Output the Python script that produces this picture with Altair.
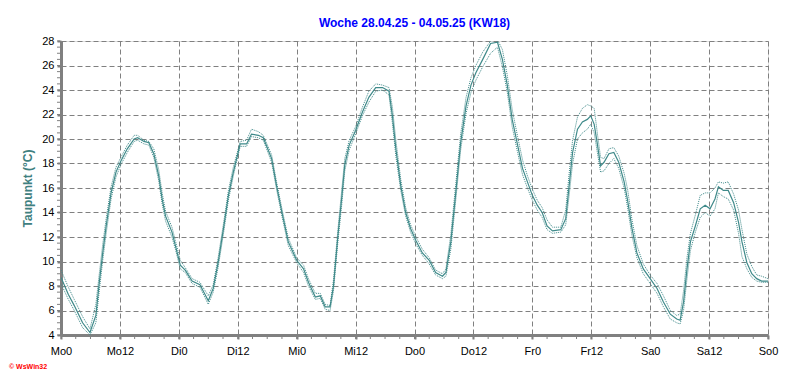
import altair as alt
import pandas as pd

title_text = "Woche 28.04.25 - 04.05.25 (KW18)"
y_title = "Taupunkt  (°C)"
x_labels = ["Mo0", "Mo12", "Di0", "Di12", "Mi0", "Mi12", "Do0", "Do12",
            "Fr0", "Fr12", "Sa0", "Sa12", "So0"]
x_label_hours = [0, 12, 24, 36, 48, 60, 72, 84, 96, 108, 120, 132, 144]
x_minor_hours = list(range(0, 145, 3))
y_ticks = [4, 6, 8, 10, 12, 14, 16, 18, 20, 22, 24, 26, 28]
y_minor = [4 + 0.5 * i for i in range(49)]

hours = [0, 1.5, 2.7, 4.4, 5.9, 7.1, 7.8, 8.5, 9.2, 10.2, 11.2, 12.2, 13.5, 14.9, 15.6,
         16.9, 17.9, 18.9, 19.9, 20.6, 21.3, 22.6, 23.3, 24.3, 25.3, 26.7, 28.3, 30.0,
         31.0, 32.0, 33.1, 34.1, 35.1, 36.5, 37.8, 38.8, 40.2, 41.2, 42.9, 43.9, 45.0,
         46.3, 48.0, 49.4, 50.4, 51.8, 52.8, 53.8, 54.8, 55.5, 56.4, 57.2, 57.8, 58.7,
         60.0, 61.4, 62.7, 64.1, 65.5, 66.8, 67.5, 68.2, 69.2, 70.2, 71.2, 72.3, 73.6,
         75.0, 76.3, 77.7, 78.4, 79.4, 80.4, 81.4, 82.5, 83.5, 84.5, 85.9, 87.5, 88.9,
         89.9, 90.9, 91.9, 93.0, 94.0, 95.0, 96.0, 97.0, 98.0, 99.0, 100.1, 101.8,
         102.8, 103.5, 104.2, 105.2, 106.2, 107.2, 107.9, 108.6, 109.2, 109.9, 110.6,
         111.6, 112.6, 113.6, 114.7, 115.4, 116.3, 117.3, 118.6, 120.0, 121.4, 122.7,
         124.1, 125.4, 126.1, 126.8, 127.5, 128.2, 129.2, 130.2, 131.2, 132.2, 133.2,
         133.9, 134.9, 135.9, 137.0, 138.0, 138.7, 139.7, 140.7, 141.7, 142.7, 144.0]

dew_mean = [8.7, 7.3, 6.4, 5.0, 4.2, 5.6, 8.3, 10.7, 12.9, 15.6, 17.3, 18.2, 19.2, 20.0, 20.1,
            19.8, 19.7, 18.8, 17.0, 15.1, 13.7, 12.4, 11.3, 9.7, 9.3, 8.4, 8.1, 6.8,
            7.8, 9.9, 12.7, 15.4, 17.3, 19.6, 19.6, 20.4, 20.3, 20.1, 18.4, 16.2, 14.0,
            11.6, 10.1, 9.4, 8.3, 7.1, 7.2, 6.3, 6.3, 8.0, 12.1, 15.3, 17.9, 19.5,
            20.7, 22.2, 23.4, 24.2, 24.2, 23.9, 21.9, 19.2, 16.2, 14.0, 12.7, 11.7, 10.7,
            10.1, 9.1, 8.8, 9.1, 11.6, 15.6, 19.7, 22.7, 24.4, 25.4, 26.5, 27.8, 27.9,
            26.5, 24.4, 21.6, 19.5, 17.6, 16.5, 15.4, 14.6, 14.0, 12.9, 12.5, 12.6,
            13.5, 16.2, 18.9, 20.8, 21.4, 21.6, 21.9, 21.2, 19.7, 17.8, 18.1,
            18.8, 18.9, 18.1, 16.5, 15.0, 12.7, 10.7, 9.4, 8.6, 7.8, 6.7,
            5.7, 5.3, 5.2, 6.7, 9.4, 11.6, 12.9, 14.3, 14.6, 14.3, 15.1,
            16.1, 15.8, 15.8, 14.8, 13.2, 11.6, 9.9, 9.0, 8.6, 8.4, 8.4]

dew_max = [9.3, 7.9, 6.9, 5.5, 4.5, 6.5, 9.0, 11.4, 13.5, 16.1, 17.7, 18.5, 19.5, 20.3, 20.3,
           19.9, 19.8, 19.2, 17.5, 15.6, 14.1, 12.8, 11.7, 10.1, 9.5, 8.6, 8.3, 7.2,
           8.1, 10.3, 13.1, 15.8, 17.7, 19.8, 19.9, 20.8, 20.6, 20.3, 18.7, 16.5, 14.3,
           11.9, 10.3, 9.7, 8.6, 7.4, 7.4, 6.5, 6.4, 8.5, 12.6, 15.9, 18.4, 19.9,
           21.0, 22.6, 23.9, 24.5, 24.4, 24.2, 22.6, 19.9, 16.7, 14.4, 13.0, 12.0, 11.0,
           10.3, 9.3, 9.0, 9.4, 12.2, 16.3, 20.4, 23.4, 25.0, 26.0, 27.1, 28.0, 28.1,
           27.3, 25.2, 22.4, 20.2, 18.3, 17.0, 15.9, 15.0, 14.4, 13.4, 12.8, 12.8,
           14.2, 17.2, 19.9, 21.8, 22.5, 22.8, 22.7, 22.5, 20.6, 18.5, 18.4,
           19.2, 19.3, 18.6, 17.2, 15.9, 13.4, 11.3, 9.8, 8.9, 8.2, 7.2,
           6.0, 5.6, 5.7, 7.6, 10.3, 12.3, 13.8, 15.4, 15.6, 15.6, 16.0,
           16.5, 16.4, 16.5, 15.5, 14.2, 12.6, 10.6, 9.6, 8.9, 8.8, 8.6]

dew_min = [8.2, 6.9, 6.0, 4.6, 4.0, 5.0, 7.6, 10.1, 12.3, 15.1, 16.9, 17.9, 18.9, 19.8, 19.9,
           19.6, 19.5, 18.5, 16.6, 14.7, 13.3, 12.0, 11.0, 9.4, 9.1, 8.2, 7.9, 6.5,
           7.5, 9.5, 12.3, 15.0, 17.0, 19.4, 19.4, 20.2, 20.1, 19.9, 18.1, 15.9, 13.7,
           11.3, 9.9, 9.1, 8.0, 6.9, 7.0, 6.1, 6.0, 7.6, 11.6, 14.7, 17.4, 19.1,
           20.4, 21.9, 23.0, 23.9, 24.0, 23.6, 21.3, 18.6, 15.8, 13.7, 12.4, 11.4, 10.5,
           9.8, 8.9, 8.6, 8.8, 11.0, 15.0, 19.1, 22.1, 23.8, 24.8, 25.9, 27.0, 27.5,
           25.9, 23.8, 21.0, 18.9, 17.1, 16.0, 15.0, 14.2, 13.6, 12.6, 12.3, 12.4,
           13.0, 15.4, 18.0, 20.0, 20.5, 20.8, 21.2, 20.5, 19.0, 17.3, 17.4,
           18.0, 18.4, 17.6, 16.0, 14.4, 12.1, 10.3, 9.0, 8.2, 7.4, 6.3,
           5.3, 5.0, 4.9, 6.0, 8.6, 10.9, 12.4, 13.6, 14.0, 13.7, 14.3,
           15.6, 15.3, 15.1, 14.2, 12.3, 10.4, 9.4, 8.7, 8.4, 8.3, 8.3]

df = pd.DataFrame({"h": hours, "mean": dew_mean, "max": dew_max, "min": dew_min})
df_xminor = pd.DataFrame({"h": x_minor_hours})
df_yminor = pd.DataFrame({"mean": y_minor})

LINE = "#3f8a8a"
GRID = "#808080"
label_expr = "[" + ",".join(f"'{l}'" for l in x_labels) + "][round(datum.value/12)]"

x_scale = alt.Scale(domain=[0, 144], nice=False, zero=False)
y_scale = alt.Scale(domain=[4, 28], nice=False, zero=False)

x_axis = alt.Axis(values=x_label_hours, labelExpr=label_expr, title=None,
                  grid=True, gridColor=GRID, gridDash=[5, 3], gridWidth=1,
                  domainColor=GRID, domainWidth=3, tickColor=GRID, tickSize=4,
                  tickWidth=2, labelPadding=6, labelFont="Liberation Sans",
                  labelFontSize=11, labelColor="black", labelFlush=False,
                  labelOverlap=False)
y_axis = alt.Axis(values=y_ticks, title=y_title, grid=True, gridColor=GRID,
                  gridDash=[5, 3], gridWidth=1, domainColor=GRID, domainWidth=3,
                  tickColor=GRID, tickSize=4, tickWidth=2, labelPadding=3,
                  labelFont="Liberation Sans", labelFontSize=11,
                  labelColor="black", titleColor="#3f8080",
                  titleFont="Liberation Sans", titleFontSize=12,
                  titleFontWeight="bold", titlePadding=7, labelOverlap=False)


def X():
    return alt.X("h:Q", scale=x_scale, axis=x_axis, title=None)


def Y(field):
    return alt.Y(field, scale=y_scale, axis=y_axis, title=y_title)


base = alt.Chart(df)
mean_line = base.mark_line(color=LINE, strokeWidth=1.2, clip=True).encode(x=X(), y=Y("mean:Q"))
max_line = base.mark_line(color=LINE, strokeWidth=1, strokeDash=[1, 1], clip=True).encode(
    x=X(), y=Y("max:Q"))
min_line = base.mark_line(color=LINE, strokeWidth=1, strokeDash=[1, 1], clip=True).encode(
    x=X(), y=Y("min:Q"))

x_minor_ticks = alt.Chart(df_xminor).mark_rule(color=GRID, strokeWidth=1).encode(
    x=X(), y=alt.value(295), y2=alt.value(298))
y_minor_ticks = alt.Chart(df_yminor).mark_rule(color=GRID, strokeWidth=1).encode(
    y=Y("mean:Q"), x=alt.value(-4), x2=alt.value(-1))

logo = alt.Chart(pd.DataFrame({"t": ["© WsWin32"]})).mark_text(
    color="red", fontSize=7, font="Liberation Sans", fontWeight="bold", align="left"
).encode(text="t:N", x=alt.value(-52), y=alt.value(326))

chart = alt.layer(mean_line, max_line, min_line, x_minor_ticks, y_minor_ticks, logo).properties(
    width=707, height=294,
    title=alt.TitleParams(title_text, color="#0000ff", font="Liberation Sans",
                          fontSize=12, fontWeight="bold", anchor="middle", offset=5),
    autosize=alt.AutoSizeParams(type="none"),
    padding={"left": 53, "top": 33, "right": 16, "bottom": 44},
).configure_view(stroke="black", strokeWidth=1.5).configure_axis(
    labelOverlap=False).configure(background="white")

chart.save("out.html", embed_options={"renderer": "svg", "actions": False})
